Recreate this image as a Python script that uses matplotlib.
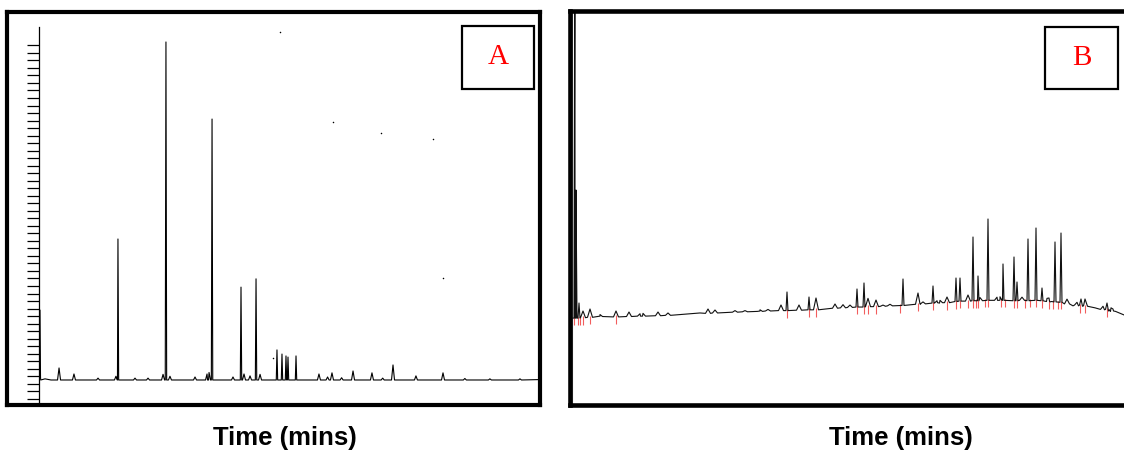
import matplotlib
matplotlib.use("Agg")
import matplotlib.pyplot as plt
import numpy as np
from matplotlib.patches import Rectangle

# ---------------- data (retention time in minutes, detector response in arbitrary units) -------------
# Panel A: peak retention times, heights above baseline
A_peak_t = [0.1, 2.0, 3.49, 5.89, 7.68, 7.88, 9.58, 10.88, 12.38, 12.67, 13.07, 15.57, 16.77, 16.97,
            17.27, 19.36, 20.16, 20.46, 21.06, 21.66, 22.06, 23.75, 24.25, 24.65, 24.85, 25.65,
            27.94, 28.8, 29.24, 30.2, 31.34, 33.23, 34.3, 35.33, 37.62, 40.32, 42.5, 45.0, 48.0]
A_peak_h = [18.6, 3.2, 1.6, 0.5, 1.0, 37.5, 0.5, 0.5, 1.5, 89.9, 1.0, 0.8, 1.6, 2.0,
            69.4, 0.8, 24.7, 1.6, 1.1, 26.9, 1.5, 8.0, 6.9, 6.4, 6.1, 6.4,
            1.6, 0.8, 1.9, 0.6, 2.4, 1.9, 0.5, 4.0, 1.1, 1.9, 0.4, 0.3, 0.3]
A_base_t = [0.15, 0.6, 1.2, 49.8]
A_base_y = [0.8, 0.3, 0.0, 0.1]
A_dots_t = [29.34, 34.13, 39.32, 40.32, 23.35, 24.05]
A_dots_y = [68.6, 65.7, 64.1, 27.1, 5.8, 92.5]

# Panel B: peak retention times, apex level and local baseline level
B_peak_t = [0.5, 0.6, 0.9, 1.3, 2.0, 3.0, 4.6, 5.9, 7.0, 7.3, 8.8, 9.8, 13.8, 14.5, 16.5, 17.5,
            19.0, 19.8, 21.1, 21.7, 22.9, 23.9, 24.6, 26.5, 27.3, 28.0, 28.7, 29.4, 29.8, 30.6,
            31.3, 32.0, 33.3, 34.8, 35.3, 36.3, 36.7, 37.0, 37.7, 38.6, 39.0, 39.8, 40.3, 40.8,
            41.0, 41.8, 42.7, 43.0, 43.3, 44.4, 44.7, 45.2, 45.8, 46.6, 47.2, 47.7, 47.9, 48.5,
            49.1, 49.7, 50.7, 51.1, 51.5, 53.3, 53.7, 54.1, 54.3]
B_peak_top = [140.0, 54.43, 25.82, 23.80, 24.30, 22.9, 23.80, 23.54, 23.1, 23.2, 23.54, 23.3, 24.30, 24.05, 23.9, 23.9,
              24.1, 24.2, 25.32, 28.61, 25.32, 27.34, 27.09, 25.57, 25.4, 25.3, 29.37, 30.89, 27.0, 26.58,
              25.3, 25.5, 31.90, 28.35, 26.1, 30.13, 26.4, 26.5, 27.34, 32.15, 32.15, 27.85, 42.53, 32.66,
              27.2, 47.09, 27.3, 27.4, 35.70, 37.47, 31.14, 27.3, 42.03, 44.81, 29.62, 27.0, 27.09, 41.27,
              43.54, 26.8, 26.0, 26.84, 26.84, 25.0, 25.82, 24.6, 24.3]
B_peak_base = [22.0, 22.0, 22.0, 22.1, 22.2, 22.4, 22.3, 22.4, 22.5, 22.5, 22.6, 22.7, 23.2, 23.3, 23.5, 23.6,
               23.7, 23.8, 23.9, 23.9, 24.0, 24.1, 24.1, 24.5, 24.6, 24.7, 24.8, 24.8, 24.9, 24.9,
               25.0, 25.1, 25.2, 25.5, 25.6, 25.8, 25.8, 25.9, 25.9, 26.2, 26.3, 26.3, 26.4, 26.4,
               26.4, 26.5, 26.5, 26.5, 26.5, 26.4, 26.4, 26.5, 26.4, 26.5, 26.4, 26.3, 26.2, 26.1,
               26.0, 25.6, 25.3, 25.1, 25.0, 24.2, 24.1, 23.8, 23.7]
B_base_t = [0.3, 3.0, 13.0, 19.0, 29.0, 35.0, 38.7, 43.0, 48.0, 50.3, 52.5, 54.0, 55.4]
B_base_y = [22.0, 22.5, 23.3, 23.8, 24.8, 25.6, 26.3, 26.6, 26.1, 25.1, 24.6, 23.8, 22.8]
# integration markers (red) in panel B
B_mark_t = [0.4, 0.8, 1.0, 1.3, 2.0, 4.6, 21.7, 23.9, 24.6, 28.7, 29.4, 29.8, 30.6, 33.0, 34.8, 36.3,
            37.7, 38.6, 39.0, 39.8, 40.3, 40.6, 40.8, 41.5, 41.8, 43.1, 43.5, 44.4, 44.7, 45.5,
            46.0, 46.6, 47.2, 47.9, 48.3, 48.8, 49.1, 51.0, 51.5, 53.7]
B_mark_base = [22.0, 22.0, 22.0, 22.1, 22.2, 22.3, 23.9, 24.1, 24.1, 24.8, 24.8, 24.9, 24.9, 25.2, 25.5, 25.8,
               25.9, 26.2, 26.3, 26.3, 26.4, 26.4, 26.4, 26.5, 26.5, 26.5, 26.5, 26.4, 26.4, 26.4,
               26.5, 26.5, 26.4, 26.2, 26.1, 26.0, 26.0, 25.2, 25.0, 24.1]

panel_labels = ["A", "B"]
xlabel = "Time (mins)"

# ---------------- figure ----------------
W, H = 1124, 451
fig = plt.figure(figsize=(W / 100, H / 100), dpi=100)


def px_axes(x0, y0, x1, y1, **kw):
    return fig.add_axes([x0 / W, 1 - y1 / H, (x1 - x0) / W, (y1 - y0) / H], **kw)


def build_trace(pt, ph, pb, bt, by, narrow, wide, big):
    pts = list(zip(bt, by))
    for t, h, b in zip(pt, ph, pb):
        w = narrow if (h - b) > big else wide
        pts += [(t - w, b), (t, h), (t + w, b)]
    pts.sort(key=lambda p: p[0])
    return [p[0] for p in pts], [p[1] for p in pts]


# ----- Panel A -----
frameA = px_axes(7, 12, 540, 405)
frameA.set_xticks([]); frameA.set_yticks([])
for s in frameA.spines.values():
    s.set_linewidth(3.0)

axA = px_axes(39, 27, 540, 403)
axA.patch.set_alpha(0)
axA.set_xlim(0, 50.0)
axA.set_ylim(-6.12, 93.88)
for side in ["top", "right", "bottom"]:
    axA.spines[side].set_visible(False)
axA.spines["left"].set_linewidth(0.9)
axA.set_xticks([])
axA.set_yticks(np.arange(-5, 89.5, 2.0))
axA.tick_params(axis="y", direction="out", length=9, width=0.9, labelleft=False)

tA, yA = build_trace(A_peak_t, A_peak_h, [0.0] * len(A_peak_t), A_base_t, A_base_y, 0.07, 0.15, 5)
axA.plot(tA, yA, color="black", lw=0.8)
axA.scatter(A_dots_t, A_dots_y, s=1.2, color="black", lw=0, clip_on=False)

# ----- Panel B -----
axB = px_axes(569.5, 11, 1131, 404.5)
axB.set_xlim(-0.05, 56.1)
axB.set_ylim((405 - 404.5) / 3.95, (405 - 11) / 3.95)
axB.set_xticks([]); axB.set_yticks([])
for s in axB.spines.values():
    s.set_linewidth(3.3)
axB.axvline(0.2, color="0.55", lw=0.8)

tB, yB = build_trace(B_peak_t, B_peak_top, B_peak_base, B_base_t, B_base_y, 0.1, 0.25, 3)
axB.vlines(B_mark_t, np.array(B_mark_base) - 1.8, np.array(B_mark_base) + 0.4,
           color="#f04040", lw=0.8, alpha=0.85)
axB.plot(tB, yB, color="#111111", lw=0.8)

# ----- label boxes -----
for (x0, y0, x1, y1), lab in zip([(462, 26, 534, 89), (1045, 27, 1118, 89)], panel_labels):
    fig.add_artist(Rectangle((x0 / W, 1 - y1 / H), (x1 - x0) / W, (y1 - y0) / H,
                             transform=fig.transFigure, facecolor="white",
                             edgecolor="black", lw=1.6))
    fig.text((x0 + x1) / 2 / W, 1 - (y0 + y1) / 2 / H, lab, ha="center", va="center",
             color="red", fontsize=21, family="Liberation Serif")

for xc in [285, 901]:
    fig.text(xc / W, 1 - 438 / H, xlabel, ha="center", va="center", fontsize=18.5,
             fontweight="bold", family="Liberation Sans")

fig.savefig("out.png", dpi=100)
